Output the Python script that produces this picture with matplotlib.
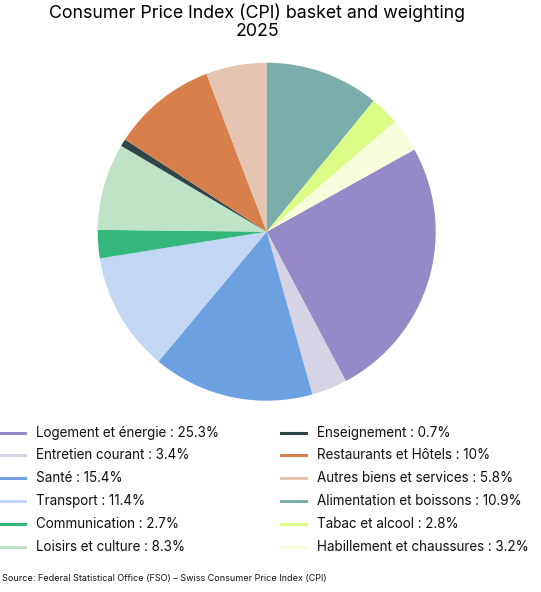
import matplotlib.pyplot as plt
from matplotlib.lines import Line2D

plt.rcParams['font.family'] = ['Inter', 'DejaVu Sans']

# legend order
categories = ["Logement et énergie", "Entretien courant", "Santé", "Transport",
              "Communication", "Loisirs et culture", "Enseignement",
              "Restaurants et Hôtels", "Autres biens et services",
              "Alimentation et boissons", "Tabac et alcool",
              "Habillement et chaussures"]
weights = [25.3, 3.4, 15.4, 11.4, 2.7, 8.3, 0.7, 10, 5.8, 10.9, 2.8, 3.2]
colors = ["#9589c8", "#d6d4e4", "#6ca0e0", "#c1d7f4", "#34b77d", "#bee3c7",
          "#2f4548", "#d7804c", "#e5c5b1", "#7badab", "#dbfc85", "#f8fddc"]

fig = plt.figure(figsize=(5.41, 5.92), dpi=100)

# pie: starts at top with Alimentation, clockwise
ax = fig.add_axes([(266.7 - 169) / 541, 1 - (231.7 + 169) / 592, 338 / 541, 338 / 592])
lead = sum(weights[9:])
start = 90 - lead / sum(weights) * 360
ax.pie(weights, colors=colors, startangle=start, counterclock=False,
       wedgeprops=dict(linewidth=0))
ax.set_xlim(-1, 1)
ax.set_ylim(-1, 1)
ax.set_aspect('equal')

fig.text(257 / 541, 1 - 13 / 592, "Consumer Price Index (CPI) basket and weighting",
         ha='center', va='center', fontsize=12.8)
fig.text(257 / 541, 1 - 31 / 592, "2025", ha='center', va='center', fontsize=12.8)

# legend as two columns
row_y = [433, 455, 478, 501, 524, 547]
for i, (name, w, c) in enumerate(zip(categories, weights, colors)):
    col = i // 6
    y = 1 - row_y[i % 6] / 592
    x0 = 0 if col == 0 else 281
    lbl = f"{w:g}%"
    fig.add_artist(Line2D([x0 / 541, (x0 + 25) / 541], [y, y], color=c, lw=2.2))
    fig.text((x0 + 36) / 541, y, f"{name} : {lbl}", va='center', fontsize=9.7,
             color='#111111')

fig.text(2 / 541, 1 - 579 / 592,
         "Source: Federal Statistical Office (FSO) \u2013 Swiss Consumer Price Index (CPI)",
         va='center', fontsize=6.5, color='#111111')

fig.savefig("out.png", dpi=100)
